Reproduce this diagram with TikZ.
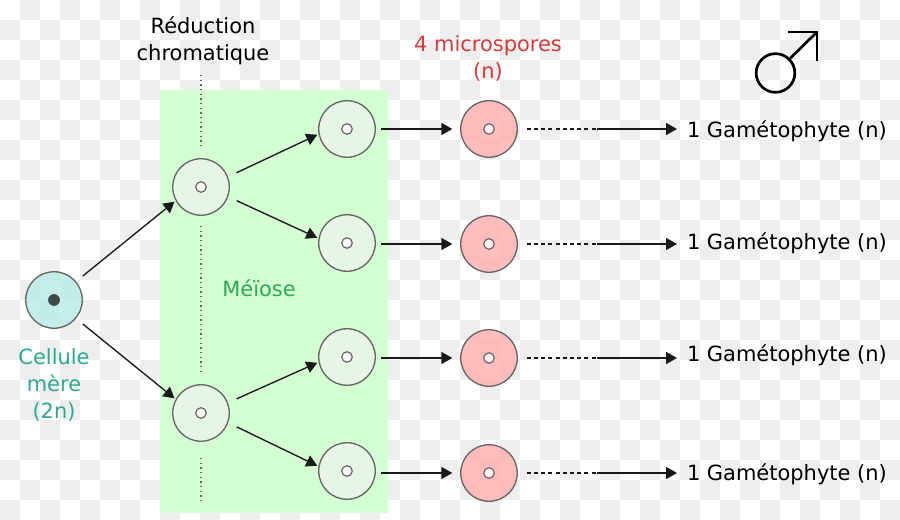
\documentclass[tikz,border=0pt]{standalone}
\usepackage{fontspec}
\setmainfont{DejaVu Sans}
\usetikzlibrary{arrows.meta}
\definecolor{checkgrey}{HTML}{EEEEEE}
\definecolor{meiosisbg}{HTML}{D3FFD3}
\definecolor{cellstroke}{HTML}{666666}
\definecolor{tealfill}{HTML}{BCEDE6}
\definecolor{palefill}{HTML}{EAF4EA}
\definecolor{pinkfill}{HTML}{FFB4B4}
\definecolor{tealtext}{HTML}{2CA98F}
\definecolor{greentext}{HTML}{2EA85C}
\definecolor{redtext}{HTML}{D33C3C}
\definecolor{darkcore}{HTML}{3D4A48}
\tikzset{
  x=0.75pt, y=-0.75pt,
  cell/.style={circle, draw=cellstroke, line width=1pt, minimum size=42.4pt, inner sep=0pt, outer sep=1.5pt, fill opacity=0.88},
  mother/.style={cell, fill=tealfill},
  pale/.style={cell, fill=palefill},
  spore/.style={cell, fill=pinkfill},
  nucleus/.style={circle, draw=cellstroke, fill=white, fill opacity=0.8, line width=0.9pt, minimum size=7.9pt, inner sep=0pt},
  darknucleus/.style={circle, fill=darkcore, minimum size=8.8pt, inner sep=0pt},
  arrowline/.style={draw=black!90, line width=1pt, -{Triangle[length=8.2pt,width=9pt]}},
  dashline/.style={draw=black!90, line width=1pt, dash pattern=on 3pt off 2.4pt},
  dotline/.style={draw=black!60, line width=0.95pt, dash pattern=on 0.9pt off 2.6pt},
  label/.style={align=center, font=\fontsize{15.72}{20}\selectfont, inner sep=0pt},
  gamete/.style={label, anchor=west, outer sep=7.5pt},
  symbolline/.style={draw=black, line width=2pt}
}
\begin{document}
\begin{tikzpicture}
\useasboundingbox (0,0) rectangle (900,520);
% checkered backdrop
\fill[white] (0,0) rectangle (900,520);
\foreach \col in {0,...,44}{
  \foreach \row in {0,...,25}{
    \pgfmathtruncatemacro{\odd}{mod(\col+\row,2)}
    \ifnum\odd=1
      \fill[checkgrey] (\col*20,\row*20) rectangle ({(\col+1)*20},{(\row+1)*20});
    \fi
  }
}
% meiosis zone
\fill[meiosisbg] (160,90.5) rectangle (388,512.5);

% cells
\node[mother] (m) at (54,300) {};
\node[pale] (a1) at (201,187) {};
\node[pale] (a2) at (201,413) {};
\node[pale] (b1) at (347,129) {};
\node[pale] (b2) at (347,243) {};
\node[pale] (b3) at (347,357) {};
\node[pale] (b4) at (347,471) {};
\node[spore] (c1) at (489,129) {};
\node[spore] (c2) at (489,244) {};
\node[spore] (c3) at (489,358) {};
\node[spore] (c4) at (489,473) {};

% nuclei
\node[darknucleus] (nm) at (m) {};
\foreach \n in {a1,a2,b1,b2,b3,b4,c1,c2,c3,c4}
  \node[nucleus] (n\n) at (\n) {};

% labels
\node[label, text=tealtext] (lm) at (54,385) {Cellule\\mère\\(2n)};
\node[label] (lr) at (203,41) {Réduction\\chromatique};
\node[label, text=greentext] (lz) at (259,288) {Méïose};
\node[label, text=redtext] (ls) at (488,58.5) {4 microspores\\(n)};
\node[gamete] (g1) at (677,131.5) {1 Gamétophyte (n)};
\node[gamete] (g2) at (677,243) {1 Gamétophyte (n)};
\node[gamete] (g3) at (677,355) {1 Gamétophyte (n)};
\node[gamete] (g4) at (677,474) {1 Gamétophyte (n)};

% dotted reduction axis
\coordinate (d1) at (201,75);
\coordinate (d2) at (201,147);
\coordinate (d3) at (201,226);
\coordinate (d4) at (201,374);
\coordinate (d5) at (201,458);
\coordinate (d6) at (201,502);
\draw[dotline] (d1) -- (d2);
\draw[dotline] (d3) -- (d4);
\draw[dotline] (d5) -- (d6);

% divisions
\draw[arrowline, shorten <=5.5pt] (m.40) -- (a1.209);
\draw[arrowline, shorten <=5.5pt] (m.-40) -- (a2.151);
\draw[arrowline, shorten <=6pt] (a1.21) -- (b1.191);
\draw[arrowline, shorten <=6pt] (a1.-20) -- (b2.170);
\draw[arrowline, shorten <=6pt] (a2.21) -- (b3.191);
\draw[arrowline, shorten <=6pt] (a2.-20) -- (b4.170);

% spore formation
\draw[arrowline, shorten <=3pt, shorten >=4.8pt] (b1.east |- c1) -- (c1.west);
\draw[arrowline, shorten <=3pt, shorten >=4.8pt] (b2.east |- c2) -- (c2.west);
\draw[arrowline, shorten <=3pt, shorten >=4.8pt] (b3.east |- c3) -- (c3.west);
\draw[arrowline, shorten <=3pt, shorten >=4.8pt] (b4.east |- c4) -- (c4.west);

% development into gametophytes: dashed first, then solid
\foreach \i in {1,2,3,4}{
  \coordinate (t\i) at (597,0 |- c\i);
  \draw[dashline, shorten <=5.6pt] (c\i.east) -- (t\i);
  \draw[arrowline] (t\i) -- (g\i.west |- c\i);
}

% male symbol
\node[circle, draw=black, line width=2pt, minimum size=29pt, inner sep=0pt] (mars) at (775.5,73) {};
\coordinate (tip) at (817,32);
\coordinate (bar) at (788,32);
\coordinate (stem) at (817,61);
\draw[symbolline] (mars.45) -- (tip);
\draw[symbolline, line join=miter] (bar) -- (tip) -- (stem);
\end{tikzpicture}
\end{document}
